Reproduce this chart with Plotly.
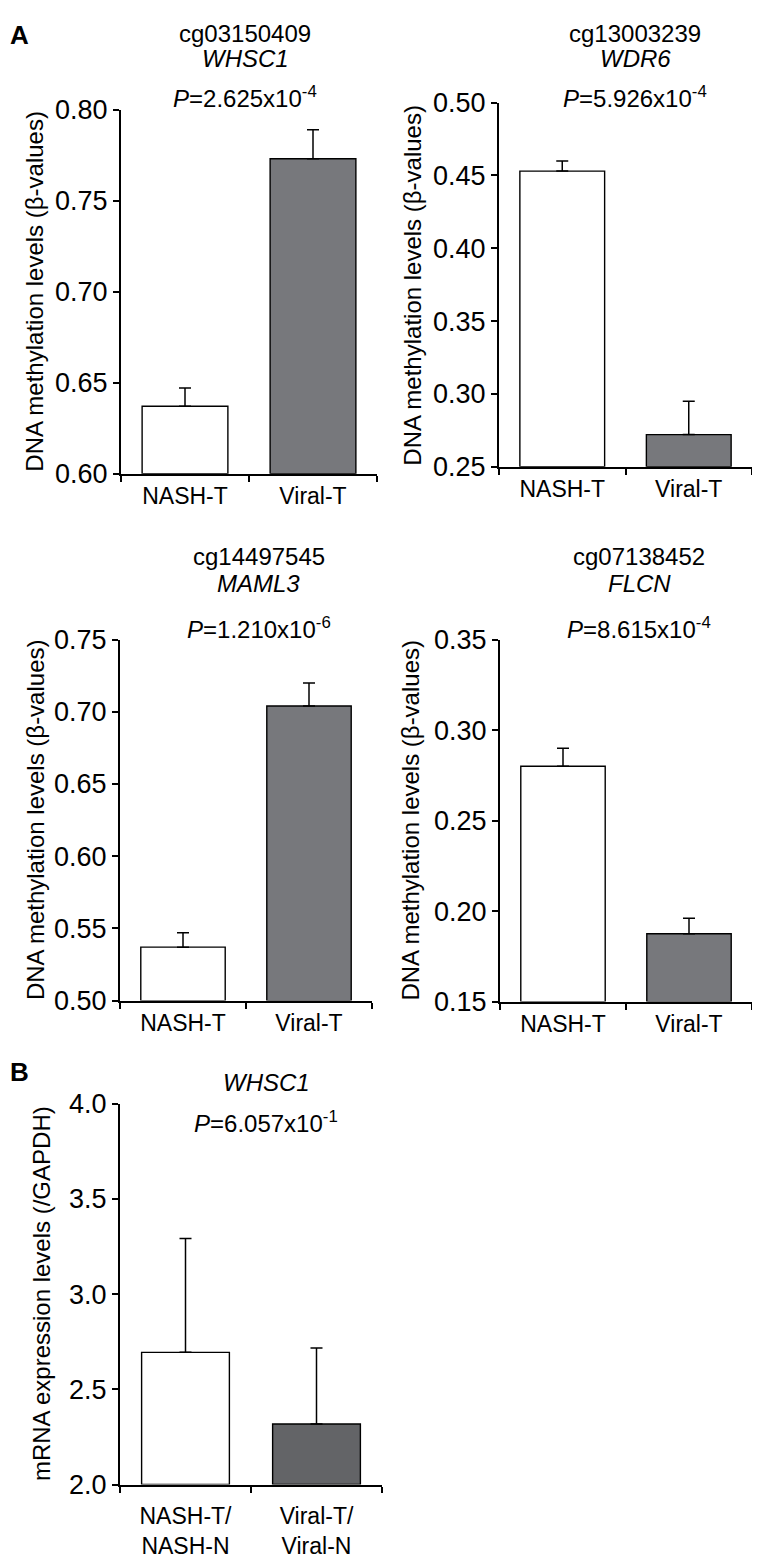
import plotly.graph_objects as go

# Target positions below are given in screenshot pixels.
# Observed mapping of the rendered page: x_screen = x_fig + 8,
# y_screen = 0.981 * y_fig + 23.3 (measured from the previous renders).
OFF_X = 8
Y_SCALE, Y_OFF = 0.981, 23.3
W, H = 744, 1570
FONT = "Liberation Sans, Arial, sans-serif"

# ---------------- data ----------------
groups_A = ["NASH-T", "Viral-T"]
groups_B = ["NASH-T/<br>NASH-N", "Viral-T/<br>Viral-N"]

probe_ids = ["cg03150409", "cg13003239", "cg14497545", "cg07138452"]
gene_names = ["WHSC1", "WDR6", "MAML3", "FLCN"]
p_mantissa = ["2.625", "5.926", "1.210", "8.615"]
p_exponent = ["-4", "-4", "-6", "-4"]

whsc1_meth = [0.637, 0.773]
whsc1_meth_err = [0.010, 0.016]
wdr6_meth = [0.453, 0.272]
wdr6_meth_err = [0.007, 0.023]
maml3_meth = [0.537, 0.704]
maml3_meth_err = [0.010, 0.016]
flcn_meth = [0.280, 0.1875]
flcn_meth_err = [0.010, 0.0085]

whsc1_mrna = [2.694, 2.318]
whsc1_mrna_err = [0.598, 0.399]
p_B_mantissa = "6.057"
p_B_exponent = "-1"

y_ranges = [[0.60, 0.80], [0.25, 0.50], [0.50, 0.75], [0.15, 0.35], [2.0, 4.0]]
y_dticks = [0.05, 0.05, 0.05, 0.05, 0.5]
y_formats = [".2f", ".2f", ".2f", ".2f", ".1f"]

# ---------------- layout (screen pixel boxes) ----------------
# (x0, x1, ytop, ybottom)
boxes = [
    (121, 377, 110, 474),
    (499, 752, 103, 467),
    (120, 372, 640, 1001),
    (500, 752, 640, 1002),
    (120, 382, 1104, 1485),
]
title_x = [245, 635, 259, 639, 266]
title_y1 = [34, 34, 557, 557, None]
title_y2 = [59, 59, 584, 584, 1083]
p_y = [97, 97, 628, 628, 1122]
ytitle_x = [35, 413, 35, 411, 41]

fill_light = "#ffffff"
fill_dark = "#77787c"
fill_dark_B = "#636467"

def px(x):
    return (x - OFF_X) / W

def py(y):
    return 1 - ((y - Y_OFF) / Y_SCALE) / H

series = [
    (whsc1_meth, whsc1_meth_err),
    (wdr6_meth, wdr6_meth_err),
    (maml3_meth, maml3_meth_err),
    (flcn_meth, flcn_meth_err),
    (whsc1_mrna, whsc1_mrna_err),
]

fig = go.Figure()
annotations = []

def txt(x, y, text, size=24, angle=0):
    return dict(x=px(x), y=py(y), text=text, textangle=angle, showarrow=False,
                xref="paper", yref="paper", xanchor="center", yanchor="middle",
                font=dict(family=FONT, size=size, color="black"))

for i, (vals, errs) in enumerate(series):
    n = i + 1
    xa = "x" if n == 1 else f"x{n}"
    ya = "y" if n == 1 else f"y{n}"
    colors = [fill_light, fill_dark_B if i == 4 else fill_dark]
    fig.add_trace(go.Bar(
        x=[0, 1], y=[v - y_ranges[i][0] for v in vals], base=y_ranges[i][0],
        width=0.67,
        marker=dict(color=colors, line=dict(color="black", width=1.4)),
        error_y=dict(type="data", symmetric=False, array=errs, arrayminus=[0, 0],
                     color="black", thickness=1.5, width=6),
        xaxis=xa, yaxis=ya, showlegend=False, hoverinfo="skip",
    ))
    x0, x1, yt, yb = boxes[i]
    labels = groups_B if i == 4 else groups_A
    xkey = "xaxis" if n == 1 else f"xaxis{n}"
    ykey = "yaxis" if n == 1 else f"yaxis{n}"
    fig.layout[xkey] = dict(
        domain=[px(x0), px(x1)], anchor=ya, range=[-0.5, 1.5],
        tickvals=[0, 1], ticktext=labels, ticks="",
        showline=True, linecolor="black", linewidth=2,
        showgrid=False, zeroline=False,
        tickfont=dict(family=FONT, size=23, color="black"),
        ticklabelstandoff=(10 if i == 4 else 1),
        minor=dict(tickvals=[-0.5, 0.5, 1.5], ticks="outside", ticklen=6,
                   tickwidth=2, tickcolor="black", showgrid=False),
        fixedrange=True,
    )
    fig.layout[ykey] = dict(
        domain=[py(yb), py(yt)], anchor=xa, range=y_ranges[i],
        dtick=y_dticks[i], tick0=y_ranges[i][0], tickformat=y_formats[i],
        ticks="outside", ticklen=6, tickwidth=2, tickcolor="black",
        showline=True, linecolor="black", linewidth=2,
        showgrid=False, zeroline=False,
        tickfont=dict(family=FONT, size=27, color="black"),
        fixedrange=True,
    )
    if i < 4:
        annotations.append(txt(title_x[i], title_y1[i], probe_ids[i]))
        annotations.append(txt(title_x[i], title_y2[i], f"<i>{gene_names[i]}</i>"))
        ptxt = f"<i>P</i>={p_mantissa[i]}x10<sup>{p_exponent[i]}</sup>"
        ytitle = "DNA methylation levels (β-values)"
    else:
        annotations.append(txt(title_x[i], title_y2[i], "<i>WHSC1</i>"))
        ptxt = f"<i>P</i>={p_B_mantissa}x10<sup>{p_B_exponent}</sup>"
        ytitle = "mRNA expression levels (/GAPDH)"
    annotations.append(txt(title_x[i], p_y[i], ptxt))
    annotations.append(txt(ytitle_x[i], (yt + yb) / 2, ytitle, angle=-90))

annotations.append(txt(19, 35, "<b>A</b>", size=26))
annotations.append(txt(19, 1072, "<b>B</b>", size=26))

fig.update_layout(
    width=W, height=H,
    margin=dict(l=0, r=0, t=0, b=0),
    paper_bgcolor="white", plot_bgcolor="white",
    annotations=annotations,
    showlegend=False,
)

fig.write_html("out.html")
